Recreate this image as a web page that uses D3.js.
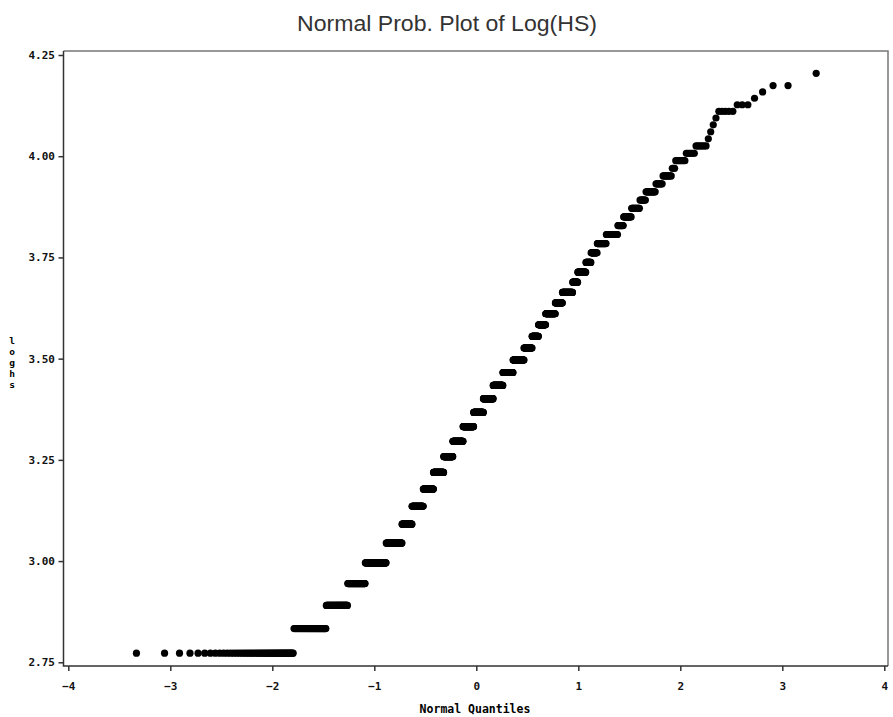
<!DOCTYPE html>
<html>
<head>
<meta charset="utf-8">
<script src="https://cdn.jsdelivr.net/npm/d3@7"></script>
<style>
  body { margin: 0; background: #fff; }
  .tick text { font-family: 'DejaVu Sans Mono', 'Liberation Mono', monospace; font-weight: bold; font-size: 11px; fill: #111; }
  .tick line { stroke: #333; }
</style>
</head>
<body>
<div id="chart"></div>
<script>
// distinct HS values and how many observations sit at each one
const hsValues = [16, 17, 18, 19, 20, 21, 22, 23, 24, 25, 26, 27, 28, 29, 30, 31, 32, 33, 34, 35,
  36, 37, 38, 39, 40, 41, 42, 43, 44, 45, 46, 47, 48, 49, 50, 51, 52, 53, 54, 55,
  56, 57, 58, 59, 60, 61, 62, 63, 64, 65, 67];
const hsCounts = [53, 49, 48, 50, 73, 65, 45, 54, 52, 54, 50, 57, 60, 55, 55, 54, 55, 57, 40, 31,
  33, 42, 29, 39, 18, 27, 16, 18, 24, 27, 12, 15, 14, 9, 13, 8, 9, 3, 8, 6,
  6, 1, 1, 1, 1, 5, 3, 1, 1, 2, 1];
const xTicks = [-4, -3, -2, -1, 0, 1, 2, 3, 4];
const yTicks = [2.75, 3.00, 3.25, 3.50, 3.75, 4.00, 4.25];

const width = 893,
  height = 717,
  frame = {left: 63.5, top: 51, right: 888, bottom: 666},
  monoFont = "'DejaVu Sans Mono', 'Liberation Mono', monospace";

// inverse normal cdf (Acklam)
function qnorm(p) {
  const a = [-39.69683028665376, 220.9460984245205, -275.9285104469687, 138.3577518672690, -30.66479806614716, 2.506628277459239],
    b = [-54.47609879822406, 161.5858368580409, -155.6989798598866, 66.80131188771972, -13.28068155288572],
    c = [-0.007784894002430293, -0.3223964580411365, -2.400758277161838, -2.549732539343734, 4.374664141464968, 2.938163982698783],
    d = [0.007784695709041462, 0.3224671290700398, 2.445134137142996, 3.754408661907416];
  const pl = 0.02425;
  let q, r;
  if (p < pl) {
    q = Math.sqrt(-2 * Math.log(p));
    return (((((c[0] * q + c[1]) * q + c[2]) * q + c[3]) * q + c[4]) * q + c[5]) /
      ((((d[0] * q + d[1]) * q + d[2]) * q + d[3]) * q + 1);
  }
  if (p > 1 - pl) {
    q = Math.sqrt(-2 * Math.log(1 - p));
    return -(((((c[0] * q + c[1]) * q + c[2]) * q + c[3]) * q + c[4]) * q + c[5]) /
      ((((d[0] * q + d[1]) * q + d[2]) * q + d[3]) * q + 1);
  }
  q = p - 0.5;
  r = q * q;
  return (((((a[0] * r + a[1]) * r + a[2]) * r + a[3]) * r + a[4]) * r + a[5]) * q /
    (((((b[0] * r + b[1]) * r + b[2]) * r + b[3]) * r + b[4]) * r + 1);
}

// sorted observations -> Blom normal scores
const obs = [];
hsValues.forEach((v, i) => {
  for (let k = 0; k < hsCounts[i]; k++) obs.push(Math.log(v));
});
const n = obs.length;
const points = obs.map((v, i) => ({q: qnorm((i + 1 - 0.375) / (n + 0.25)), y: v}));

const x = d3.scaleLinear().domain([-4, 4]).range([68.3, 884.3]);
const y = d3.scaleLinear().domain([2.75, 4.25]).range([662.3, 55]);

const svg = d3.select('#chart').append('svg')
  .attr('width', width)
  .attr('height', height);

svg.append('text')
  .attr('x', 447)
  .attr('y', 31)
  .attr('text-anchor', 'middle')
  .attr('textLength', 300)
  .attr('lengthAdjust', 'spacingAndGlyphs')
  .style('font-family', "'Liberation Sans', sans-serif")
  .style('font-size', '22px')
  .style('fill', '#333')
  .text('Normal Prob. Plot of Log(HS)');

// frame
svg.append('path')
  .attr('d', `M${frame.left},${frame.top}H${frame.right}V${frame.bottom}`)
  .attr('fill', 'none')
  .attr('stroke', '#777')
  .attr('stroke-width', 1.5);
svg.append('path')
  .attr('d', `M${frame.left},${frame.top}V${frame.bottom}H${frame.right}`)
  .attr('fill', 'none')
  .attr('stroke', '#333')
  .attr('stroke-width', 1.5);

svg.append('g')
  .attr('class', 'x-axis')
  .attr('transform', 'translate(0,' + frame.bottom + ')')
  .call(d3.axisBottom(x).tickValues(xTicks).tickSize(5).tickPadding(11).tickFormat(d3.format('d')))
  .call(g => g.select('.domain').remove())
  .call(g => g.selectAll('.tick line').attr('stroke-width', 1.5));

svg.append('g')
  .attr('class', 'y-axis')
  .attr('transform', 'translate(' + frame.left + ',0)')
  .call(d3.axisLeft(y).tickValues(yTicks).tickSize(5).tickPadding(3.5).tickFormat(d3.format('.2f')))
  .call(g => g.select('.domain').remove())
  .call(g => g.selectAll('.tick line').attr('stroke-width', 1.5));

// axis labels
svg.append('text')
  .attr('x', 475)
  .attr('y', 713)
  .attr('text-anchor', 'middle')
  .style('font-family', monoFont)
  .style('font-weight', 'bold')
  .style('font-size', '11.5px')
  .text('Normal Quantiles');

// y label, letters stacked
svg.append('g')
  .selectAll('text')
  .data('loghs'.split(''))
  .enter()
  .append('text')
    .attr('x', 12)
    .attr('y', (d, i) => 344 + i * 11)
    .attr('text-anchor', 'middle')
    .style('font-family', monoFont)
    .style('font-weight', 'bold')
    .style('font-size', '9.5px')
    .text(d => d);

svg.append('g')
  .attr('class', 'points')
  .selectAll('circle')
  .data(points)
  .enter()
  .append('circle')
    .attr('cx', d => x(d.q))
    .attr('cy', d => y(d.y))
    .attr('r', 3.6)
    .attr('fill', '#000');
</script>
</body>
</html>
